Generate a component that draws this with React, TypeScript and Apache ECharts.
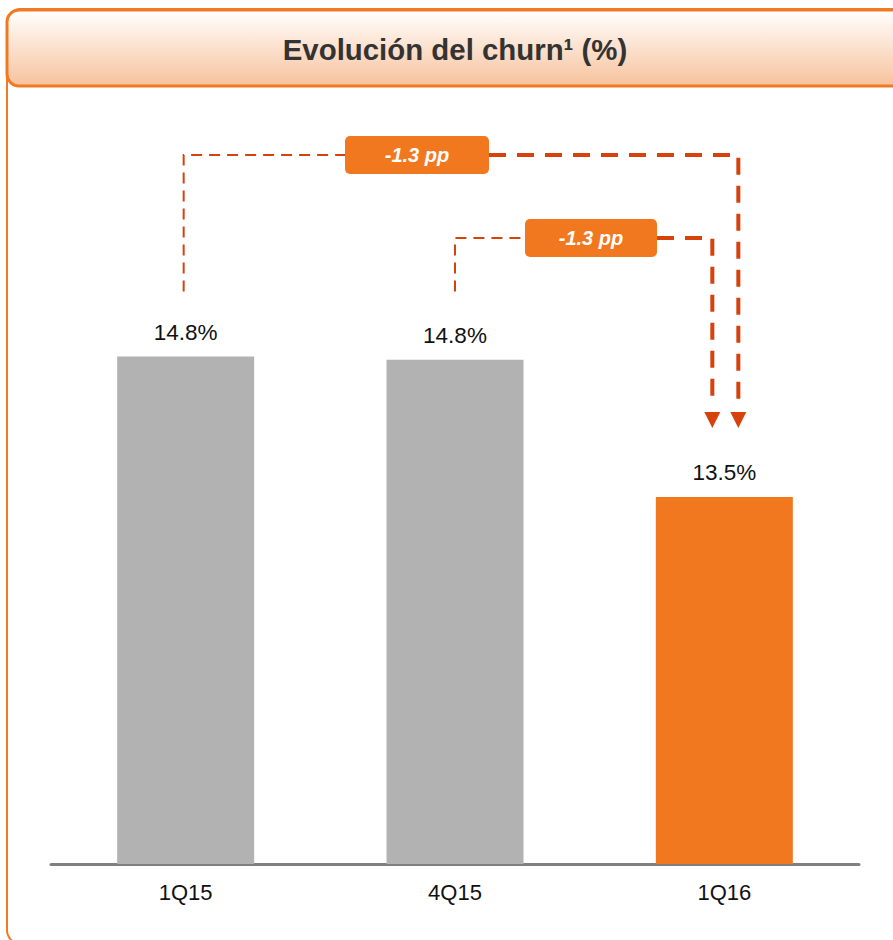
import React, { useEffect, useRef } from "react";
import * as echarts from "echarts";

const categories = ["1Q15", "4Q15", "1Q16"];
const values = [14.8, 14.77, 13.5];
const barColors = ["#b2b2b2", "#b2b2b2", "#f2781f"];
const changeLabels = ["-1.3 pp", "-1.3 pp"];
const titleText = "Evolución del churn¹ (%)";

const FONT = "'Liberation Sans', Arial, sans-serif";
const DASH_COLOR = "#d6410c";
const ORANGE = "#f2781f";

export default function App() {
  const ref = useRef<HTMLDivElement>(null);

  useEffect(() => {
    if (!ref.current) return;
    const chart = echarts.init(ref.current, null, { renderer: "svg" });
    chart.setOption({
      animation: false,
      grid: { left: 51, width: 808, top: 281, bottom: 76, containLabel: false },
      xAxis: {
        type: "category",
        data: categories,
        axisLine: { show: true, lineStyle: { color: "#7f7f7f", width: 3 } },
        axisTick: { show: false },
        axisLabel: { color: "#111", fontSize: 22, fontFamily: FONT, margin: 17 },
      },
      yAxis: {
        type: "value",
        min: 10.1,
        max: 15.5,
        show: false,
        splitLine: { show: false },
      },
      series: [
        {
          type: "bar",
          barWidth: 137,
          data: values.map((v, i) => ({ value: v, itemStyle: { color: barColors[i] } })),
          label: {
            show: true,
            position: "top",
            distance: 13,
            color: "#111",
            fontSize: 22.5,
            fontFamily: FONT,
            formatter: (p: any) => `${Number(p.value).toFixed(1)}%`,
          },
        },
      ],
    });

    const px = (i: number) => chart.convertToPixel({ gridIndex: 0 }, [i, values[i]]) as number[];
    const p0 = px(0);
    const p1 = px(1);
    const p2 = px(2);

    const startY = p0[1] - 65;
    const outerY = 155;
    const innerY = 238;
    const outerRight = p2[0] + 14;
    const innerRight = p2[0] - 12;
    const arrowTip = p2[1] - 69;
    const arrowTop = arrowTip - 16;
    const box1 = { x: 345, y: 136, w: 144, h: 38 };
    const box2 = { x: 525, y: 219, w: 132, h: 38 };

    const thin = { stroke: DASH_COLOR, lineWidth: 2, lineDash: [11, 7], fill: null };
    const thick = { stroke: DASH_COLOR, lineWidth: 4, lineDash: [17, 11], fill: null };

    const box = (b: any, text: string) => ({
      type: "group",
      children: [
        { type: "rect", shape: { x: b.x, y: b.y, width: b.w, height: b.h, r: 5 }, style: { fill: ORANGE } },
        {
          type: "text",
          x: b.x + b.w / 2,
          y: b.y + b.h / 2,
          style: {
            text,
            fill: "#fff",
            font: `italic bold 20px ${FONT}`,
            textAlign: "center",
            textVerticalAlign: "middle",
          },
        },
      ],
    });

    chart.setOption({
      graphic: [
        {
          type: "rect",
          z: -10,
          shape: { x: 7, y: 9, width: 1000, height: 935, r: 14 },
          style: { fill: null, stroke: "#f07a22", lineWidth: 2 },
        },
        {
          type: "rect",
          shape: { x: 7, y: 10, width: 1000, height: 76, r: 12 },
          style: {
            fill: new echarts.graphic.LinearGradient(0, 0, 0, 1, [
              { offset: 0, color: "#ffffff" },
              { offset: 1, color: "#f7c29c" },
            ]),
            stroke: "#f07a22",
            lineWidth: 3,
          },
        },
        {
          type: "text",
          x: 455,
          y: 49,
          scaleX: 0.98,
          style: {
            text: titleText,
            fill: "#333333",
            font: `bold 30px ${FONT}`,
            textAlign: "center",
            textVerticalAlign: "middle",
          },
        },
        {
          type: "polyline",
          shape: { points: [[p0[0] - 2, startY], [p0[0] - 2, outerY], [box1.x, outerY]] },
          style: thin,
        },
        {
          type: "polyline",
          shape: { points: [[box1.x + box1.w, outerY], [outerRight, outerY], [outerRight, arrowTop - 6]] },
          style: thick,
        },
        {
          type: "polygon",
          shape: { points: [[outerRight - 8, arrowTop], [outerRight + 8, arrowTop], [outerRight, arrowTip]] },
          style: { fill: DASH_COLOR },
        },
        {
          type: "polyline",
          shape: { points: [[p1[0], startY], [p1[0], innerY], [box2.x, innerY]] },
          style: thin,
        },
        {
          type: "polyline",
          shape: { points: [[box2.x + box2.w, innerY], [innerRight, innerY], [innerRight, arrowTop - 6]] },
          style: thick,
        },
        {
          type: "polygon",
          shape: { points: [[innerRight - 8, arrowTop], [innerRight + 8, arrowTop], [innerRight, arrowTip]] },
          style: { fill: DASH_COLOR },
        },
        box(box1, changeLabels[0]),
        box(box2, changeLabels[1]),
      ],
    });

    return () => chart.dispose();
  }, []);

  return (
    <div
      ref={ref}
      style={{ position: "absolute", left: 0, top: 0, width: 893, height: 940, background: "#fff" }}
    />
  );
}
